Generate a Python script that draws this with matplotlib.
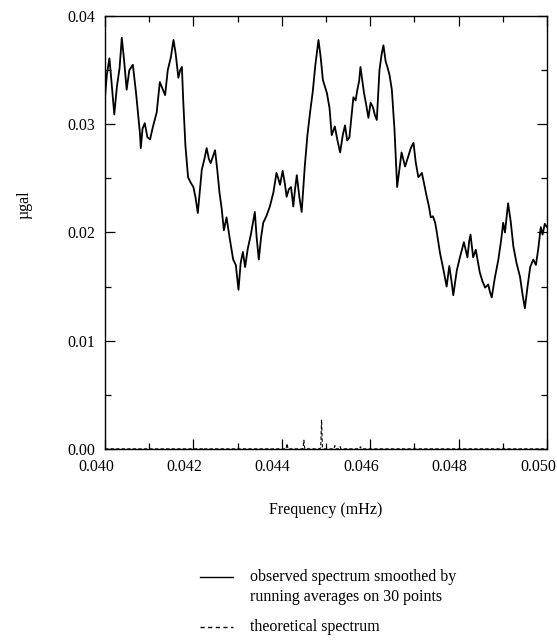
import matplotlib.pyplot as plt
import matplotlib.transforms as mtransforms
from matplotlib.ticker import MultipleLocator

plt.rcParams['font.family'] = ['Liberation Serif', 'DejaVu Serif']

# observed spectrum (frequency in mHz, amplitude in microgal)
obs_freq = [0.04000, 0.04004, 0.04010, 0.04015, 0.04021, 0.04027, 0.04033, 0.04038, 0.04043,
            0.04049, 0.04055, 0.04063, 0.04070, 0.04079, 0.04081, 0.04085, 0.04090, 0.04096,
            0.04102, 0.04108, 0.04117, 0.04124, 0.04130, 0.04136, 0.04142, 0.04149, 0.04155,
            0.04160, 0.04166, 0.04170, 0.04174, 0.04177, 0.04182, 0.04188, 0.04194, 0.04200,
            0.04205, 0.04210, 0.04215, 0.04219, 0.04225, 0.04230, 0.04235, 0.04239, 0.04244,
            0.04249, 0.04254, 0.04259, 0.04264, 0.04269, 0.04275, 0.04282, 0.04290, 0.04296,
            0.04302, 0.04307, 0.04312, 0.04317, 0.04323, 0.04330, 0.04339, 0.04343, 0.04348,
            0.04353, 0.04358, 0.04365, 0.04373, 0.04381, 0.04388, 0.04392, 0.04396, 0.04402,
            0.04407, 0.04411, 0.04416, 0.04421, 0.04426, 0.04430, 0.04434, 0.04440, 0.04445,
            0.04452, 0.04458, 0.04464, 0.04470, 0.04476, 0.04480, 0.04483, 0.04488, 0.04493,
            0.04502, 0.04508, 0.04513, 0.04520, 0.04526, 0.04532, 0.04538, 0.04543, 0.04548,
            0.04553, 0.04562, 0.04567, 0.04571, 0.04575, 0.04578, 0.04586, 0.04591, 0.04596,
            0.04601, 0.04606, 0.04611, 0.04615, 0.04621, 0.04626, 0.04630, 0.04635, 0.04639,
            0.04644, 0.04649, 0.04655, 0.04661, 0.04666, 0.04671, 0.04679, 0.04686, 0.04692,
            0.04698, 0.04703, 0.04709, 0.04717, 0.04722, 0.04728, 0.04733, 0.04737, 0.04742,
            0.04747, 0.04750, 0.04758, 0.04766, 0.04773, 0.04779, 0.04784, 0.04788, 0.04796,
            0.04803, 0.04808, 0.04812, 0.04820, 0.04824, 0.04827, 0.04833, 0.04839, 0.04844,
            0.04848, 0.04854, 0.04860, 0.04867, 0.04871, 0.04875, 0.04882, 0.04890, 0.04896,
            0.04901, 0.04905, 0.04912, 0.04918, 0.04924, 0.04931, 0.04939, 0.04945, 0.04950,
            0.04956, 0.04962, 0.04969, 0.04975, 0.04980, 0.04986, 0.04990, 0.04995, 0.05000]
obs_amp = [0.0325, 0.0345, 0.0361, 0.0338, 0.0309, 0.0335, 0.0352, 0.0380, 0.0360,
           0.0332, 0.0350, 0.0355, 0.0330, 0.0292, 0.0278, 0.0296, 0.0301, 0.0288,
           0.0286, 0.0297, 0.0311, 0.0339, 0.0333, 0.0327, 0.0350, 0.0362, 0.0378,
           0.0365, 0.0343, 0.0350, 0.0353, 0.0322, 0.0280, 0.0251, 0.0246, 0.0242,
           0.0232, 0.0218, 0.0240, 0.0258, 0.0268, 0.0278, 0.0268, 0.0264, 0.0270,
           0.0276, 0.0258, 0.0237, 0.0222, 0.0202, 0.0214, 0.0195, 0.0175, 0.0170,
           0.0147, 0.0172, 0.0182, 0.0168, 0.0185, 0.0198, 0.0219, 0.0196, 0.0175,
           0.0195, 0.0209, 0.0215, 0.0224, 0.0237, 0.0255, 0.0250, 0.0244, 0.0257,
           0.0245, 0.0233, 0.0240, 0.0242, 0.0224, 0.0240, 0.0253, 0.0232, 0.0219,
           0.0261, 0.0290, 0.0311, 0.0330, 0.0355, 0.0368, 0.0378, 0.0362, 0.0341,
           0.0329, 0.0315, 0.0290, 0.0298, 0.0285, 0.0274, 0.0290, 0.0299, 0.0285,
           0.0288, 0.0325, 0.0322, 0.0332, 0.0340, 0.0353, 0.0329, 0.0318, 0.0306,
           0.0320, 0.0316, 0.0308, 0.0304, 0.0350, 0.0365, 0.0373, 0.0358, 0.0353,
           0.0345, 0.0332, 0.0295, 0.0242, 0.0258, 0.0274, 0.0261, 0.0270, 0.0278,
           0.0283, 0.0265, 0.0251, 0.0255, 0.0245, 0.0233, 0.0224, 0.0214, 0.0215,
           0.0209, 0.0202, 0.0181, 0.0165, 0.0150, 0.0169, 0.0155, 0.0142, 0.0165,
           0.0177, 0.0185, 0.0191, 0.0177, 0.0192, 0.0198, 0.0177, 0.0184, 0.0172,
           0.0163, 0.0155, 0.0149, 0.0152, 0.0145, 0.0140, 0.0158, 0.0175, 0.0192,
           0.0209, 0.0200, 0.0227, 0.0210, 0.0187, 0.0172, 0.0159, 0.0142, 0.0130,
           0.0150, 0.0168, 0.0175, 0.0170, 0.0184, 0.0205, 0.0198, 0.0208, 0.0205]

# theoretical spectrum: flat near zero with a few narrow lines
theo_freq = [0.04000, 0.04220, 0.04222, 0.04224, 0.04410, 0.04412, 0.04414, 0.04448, 0.04450,
             0.04452, 0.04485, 0.04488, 0.04490, 0.04492, 0.04495, 0.04518, 0.04520, 0.04522,
             0.04530, 0.04532, 0.04534, 0.04576, 0.04578, 0.04580, 0.05000]
theo_amp = [0.0, 0.0, 0.0001, 0.0, 0.0, 0.0005, 0.0, 0.0, 0.0008,
            0.0, 0.0, 0.0001, 0.0027, 0.0001, 0.0, 0.0, 0.0003, 0.0,
            0.0, 0.0002, 0.0, 0.0, 0.0002, 0.0, 0.0]

xticks = [0.040, 0.042, 0.044, 0.046, 0.048, 0.050]
yticks = [0.00, 0.01, 0.02, 0.03, 0.04]

fig = plt.figure(figsize=(5.57, 6.44), dpi=100)
ax = fig.add_axes([0.1885, 0.303, 0.7935, 0.672])

ax.plot(obs_freq, obs_amp, color='black', lw=1.3)
ax.plot(theo_freq, theo_amp, color='black', lw=0.8, ls=(0, (3, 2)))

ax.set_xlim(0.040, 0.050)
ax.set_ylim(0.0, 0.04)
ax.set_xticks(xticks)
ax.set_xticklabels([f"{t:.3f}" for t in xticks])
ax.set_yticks(yticks)
ax.set_yticklabels([f"{t:.2f}" for t in yticks])
ax.xaxis.set_minor_locator(MultipleLocator(0.001))
ax.yaxis.set_minor_locator(MultipleLocator(0.005))
ax.tick_params(which='both', direction='in', top=True, right=True, labelsize=11.5, width=0.9)
ax.tick_params(which='major', length=7, pad=7)
ax.tick_params(which='minor', length=4)
for s in ax.spines.values():
    s.set_linewidth(1.0)

# the printed x labels sit a little left of their ticks
shift = mtransforms.ScaledTranslation(-9 / 100, 0, fig.dpi_scale_trans)
for lab in ax.get_xticklabels():
    lab.set_transform(lab.get_transform() + shift)

ax.set_xlabel("Frequency (mHz)", fontsize=11.5, labelpad=20)
fig.text(24 / 557, 1 - 205 / 644, "µgal", rotation=90, fontsize=11.5, ha='center', va='center')

# legend drawn by hand below the axes
fig.add_artist(plt.Line2D([200 / 557, 233 / 557], [1 - 577 / 644, 1 - 577 / 644], color='black', lw=1.0))
fig.add_artist(plt.Line2D([200 / 557, 233 / 557], [1 - 627 / 644, 1 - 627 / 644], color='black', lw=1.0,
                          ls=(0, (3, 2.5))))
fig.text(250 / 557, 1 - 577 / 644, "observed spectrum smoothed by", fontsize=11.5, va='center')
fig.text(250 / 557, 1 - 597 / 644, "running averages on 30 points", fontsize=11.5, va='center')
fig.text(250 / 557, 1 - 627 / 644, "theoretical spectrum", fontsize=11.5, va='center')

fig.savefig("out.png", dpi=100)
